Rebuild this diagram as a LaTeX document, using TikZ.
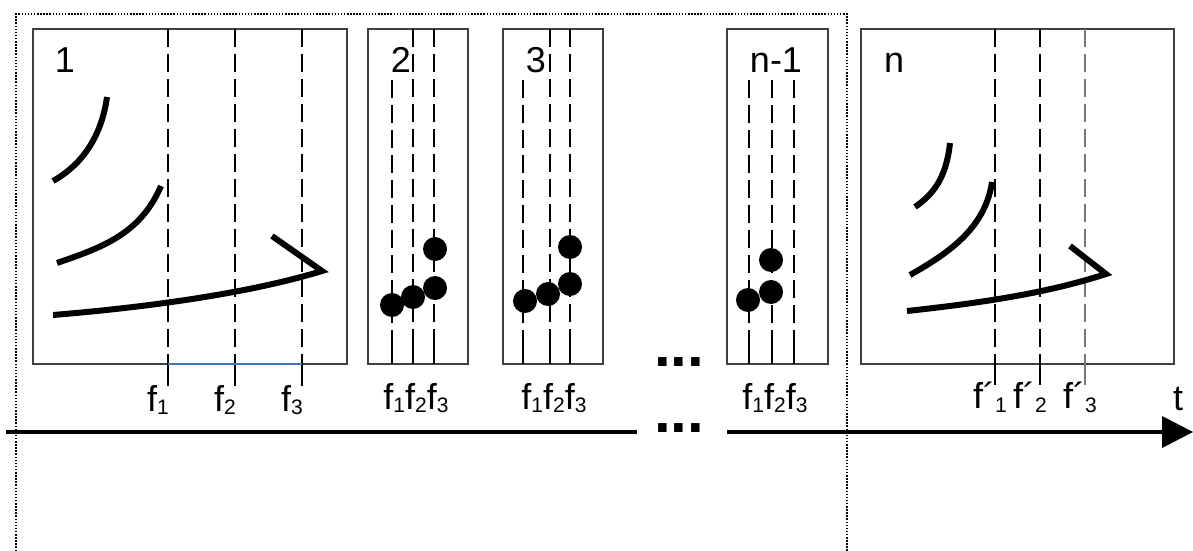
\documentclass[tikz,border=0pt]{standalone}
\usepackage{fontspec}
\setmainfont{Liberation Sans}
\newcommand{\fsb}[1]{f\raisebox{-3pt}{\fontsize{21}{21}\selectfont #1}}
\newcommand{\fpr}[1]{f´\raisebox{-4pt}{\fontsize{21}{21}\selectfont #1}}
\definecolor{boxgray}{RGB}{64,64,64}
\definecolor{lgray}{RGB}{120,120,120}
\definecolor{bline}{RGB}{68,114,196}
\tikzset{
  frame/.style={draw=boxgray,line width=1.4pt},
  dline/.style={line width=1.3pt,dash pattern=on 18pt off 7pt},
  sline/.style={line width=1.3pt},
  curve/.style={line width=6pt,line join=miter},
  dot/.style={circle,fill=black,inner sep=0,minimum size=24pt},
  lbl/.style={inner sep=0,font=\fontsize{36}{40}\selectfont},
  ell/.style={inner sep=0,font=\bfseries\fontsize{60}{60}\selectfont},
}
\begin{document}
\begin{tikzpicture}[x=1pt,y=-1pt]
\useasboundingbox (0,0) rectangle (1193,551);
% dotted frame
\draw[line width=1.3pt,dash pattern=on 1.5pt off 1.6pt] (16,551) -- (16,14) -- (847,14) -- (847,551);
% axis
\coordinate (a0) at (6,432);
\coordinate (a1) at (637,432);
\coordinate (a2) at (727,432);
\coordinate (a3) at (1162,432);
\draw[line width=4.5pt] (a0) -- (a1);
\draw[line width=4.5pt] (a2) -- (a3);
\fill (1193,432) -- (1162,416) -- (1162,448) -- cycle;
\node[lbl,anchor=base] (t) at (1178,410) {t};
\node[ell,anchor=base] (e1) at (679,366) {...};
\node[ell,anchor=base] (e2) at (679,432) {...};

% ---------- box 1
\node[frame,minimum width=314pt,minimum height=335pt,inner sep=0] (b1) at (190,196.5) {};
\foreach \x/\nm in {168/1,235/2,302/3}{
  \draw[dline] (\x,29) -- (\x,364);
  \draw[sline] (\x,364) -- (\x,386);
  \node[lbl,anchor=base east] at (\x+1,411) {\fsb{\nm}};
}
\draw[bline,line width=1.4pt] (168,364) -- (302,364);
\node[lbl,anchor=base] (l1) at (65,73) {1};
\draw[curve] (53,181) .. controls (85,163) and (102,133) .. (107,97);
\draw[curve] (57,263) .. controls (100,248) and (140,235) .. (161,186);
\draw[curve] (53,315) .. controls (150,307) and (250,293) .. (322,271) -- (272,236);

% ---------- box 2
\node[frame,minimum width=100pt,minimum height=335pt,inner sep=0] (b2) at (418,196.5) {};
\foreach \x/\y in {392/80,413/29,434/29}{
  \draw[dline] (\x,\y) -- (\x,343);
  \draw[sline] (\x,343) -- (\x,364);
}
\node[lbl,anchor=base] (l2) at (401,73) {2};
\node[dot] at (392,305) {};
\node[dot] at (413,297) {};
\node[dot] at (435,288) {};
\node[dot] at (435,249) {};
\node[lbl,anchor=base] at (416,409) {\fsb{1}\fsb{2}\fsb{3}};

% ---------- box 3
\node[frame,minimum width=100pt,minimum height=335pt,inner sep=0] (b3) at (553,196.5) {};
\foreach \x/\y in {523/80,550/29,570/29}{
  \draw[dline] (\x,\y) -- (\x,343);
  \draw[sline] (\x,343) -- (\x,364);
}
\node[lbl,anchor=base] (l3) at (536,73) {3};
\node[dot] at (525,301) {};
\node[dot] at (548,294) {};
\node[dot] at (570,284) {};
\node[dot] at (570,247) {};
\node[lbl,anchor=base] at (554,409) {\fsb{1}\fsb{2}\fsb{3}};

% ---------- box n-1
\node[frame,minimum width=101pt,minimum height=335pt,inner sep=0] (b4) at (777.5,196.5) {};
\foreach \x in {749,772,794}{
  \draw[dline] (\x,80) -- (\x,343);
  \draw[sline] (\x,343) -- (\x,364);
}
\node[lbl,anchor=base] (l4) at (776,73) {n-1};
\node[dot] at (748,300) {};
\node[dot] at (771,292) {};
\node[dot] at (771,260) {};
\node[lbl,anchor=base] at (775,409) {\fsb{1}\fsb{2}\fsb{3}};

% ---------- box n
\node[frame,minimum width=313pt,minimum height=335pt,inner sep=0] (b5) at (1017.5,196.5) {};
\draw[dline] (995,29) -- (995,364);
\draw[dline] (1040,29) -- (1040,364);
\draw[dline,lgray] (1085,29) -- (1085,364);
\draw[sline] (995,364) -- (995,385);
\draw[sline] (1040,364) -- (1040,385);
\draw[sline,lgray] (1085,364) -- (1085,385);
\node[lbl,anchor=base] (l5) at (894,73) {n};
\node[lbl,anchor=base] at (990,408) {\fpr{1}};
\node[lbl,anchor=base] at (1030,408) {\fpr{2}};
\node[lbl,anchor=base] at (1080,408) {\fpr{3}};
\draw[curve] (915,207) .. controls (932,195) and (946,180) .. (950,143);
\draw[curve] (910,275) .. controls (945,255) and (985,230) .. (992,182);
\draw[curve] (907,311) .. controls (990,302) and (1050,292) .. (1106,274) -- (1070,246);
\end{tikzpicture}
\end{document}
